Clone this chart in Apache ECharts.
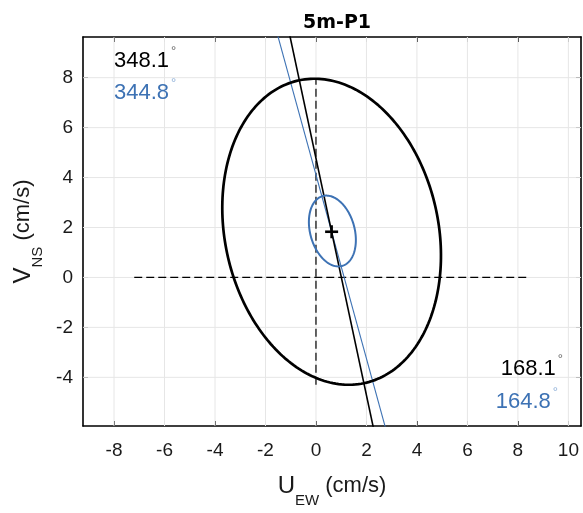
<!DOCTYPE html>
<html>
<head>
<meta charset="utf-8">
<script src="https://cdn.jsdelivr.net/npm/echarts@6/dist/echarts.min.js"></script>
<style>
  html, body { margin: 0; padding: 0; background: #ffffff; }
  #chart { width: 583px; height: 513px; }
</style>
</head>
<body>
<div id="chart"></div>
<script>
// Axis limits and tick positions (cm/s)
const xLimits = [-9.23, 10.5];
const yLimits = [-5.95, 9.63];
const xTicks = [-8, -6, -4, -2, 0, 2, 4, 6, 8, 10];
const yTicks = [-4, -2, 0, 2, 4, 6, 8];

// Variance ellipses: centre (u, v), semi-axes and principal-axis heading (deg from north)
const ellipseCentreU = [0.62, 0.65];
const ellipseCentreV = [1.83, 1.86];
const ellipseMajor = [6.20, 1.45];
const ellipseMinor = [4.23, 0.88];
const headings = [348.1, 344.8];
const seriesColors = ['#000000', '#3d72b4'];

// Mean current vector
const meanU = 0.62;
const meanV = 1.83;

// Dashed reference axes through the origin
const zeroLineV = [[0, -4.3], [0, 7.95]];
const zeroLineH = [[-7.2, 0], [8.4, 0]];

const FONT = 'Liberation Sans, Arial, Helvetica, sans-serif';
const TXT = '#1a1a1a';

// Principal-axis lines: long segments through the mean along each heading
const axisHalfLength = 40;
function headingLine(h) {
  const r = h * Math.PI / 180;
  const du = Math.sin(r) * axisHalfLength, dv = Math.cos(r) * axisHalfLength;
  return [[meanU - du, meanV - dv], [meanU + du, meanV + dv]];
}

function renderEllipse(params, api) {
  const cu = api.value(0), cv = api.value(1);
  const a = api.value(2), b = api.value(3);
  const h = api.value(4) * Math.PI / 180;
  const ux = Math.sin(h), uy = Math.cos(h);   // major-axis direction
  const vx = uy, vy = -ux;                     // minor-axis direction
  const pts = [];
  const n = 240;
  for (let k = 0; k < n; k++) {
    const t = 2 * Math.PI * k / n;
    const ca = a * Math.cos(t), sb = b * Math.sin(t);
    pts.push(api.coord([cu + ca * ux + sb * vx, cv + ca * uy + sb * vy]));
  }
  return {
    type: 'polygon',
    shape: { points: pts },
    style: { fill: 'none', stroke: seriesColors[params.dataIndex], lineWidth: params.dataIndex === 0 ? 2.7 : 2 }
  };
}

function renderVGrid(params, api) {
  const v = api.value(0);
  const p0 = api.coord([v, yLimits[0]]), p1 = api.coord([v, yLimits[1]]);
  return { type: 'line', shape: { x1: p0[0], y1: p0[1], x2: p1[0], y2: p1[1] },
           style: { stroke: '#e6e6e6', lineWidth: 1 } };
}
function renderHGrid(params, api) {
  const v = api.value(1);
  const p0 = api.coord([xLimits[0], v]), p1 = api.coord([xLimits[1], v]);
  return { type: 'line', shape: { x1: p0[0], y1: p0[1], x2: p1[0], y2: p1[1] },
           style: { stroke: '#e6e6e6', lineWidth: 1 } };
}
function renderCross(params, api) {
  const c = api.coord([api.value(0), api.value(1)]);
  const s = 6.5;
  return {
    type: 'group',
    children: [
      { type: 'line', shape: { x1: c[0] - s, y1: c[1], x2: c[0] + s, y2: c[1] }, style: { stroke: '#000', lineWidth: 2.6 } },
      { type: 'line', shape: { x1: c[0], y1: c[1] - s, x2: c[0], y2: c[1] + s }, style: { stroke: '#000', lineWidth: 2.6 } }
    ]
  };
}

const nameRich = {
  u: { fontSize: 24, fontFamily: FONT, color: TXT, lineHeight: 44 },
  s: { fontSize: 15, fontFamily: FONT, color: TXT, lineHeight: 15, verticalAlign: 'bottom' },
  n: { fontSize: 22, fontFamily: FONT, color: TXT, lineHeight: 44 }
};

function degreeLabel(value, color, degColor, x, y, align) {
  return {
    type: 'text', x: x, y: y, z: 10,
    style: {
      text: '{v|' + value.toFixed(1) + '}{d|°}',
      align: align, verticalAlign: 'middle',
      rich: {
        v: { fontSize: 22, fontFamily: FONT, fill: color, lineHeight: 32 },
        d: { fontSize: 13, fontFamily: FONT, fill: degColor, lineHeight: 13, verticalAlign: 'top', padding: [0, 0, 0, 2] }
      }
    }
  };
}

const baseX = {
  type: 'value', min: xLimits[0], max: xLimits[1],
  axisLine: { show: true, onZero: false, lineStyle: { color: '#000', width: 1.6 } },
  axisTick: { show: true, inside: true, length: 5, customValues: xTicks, lineStyle: { color: '#000', width: 1 } },
  splitLine: { show: false }
};
const baseY = {
  type: 'value', min: yLimits[0], max: yLimits[1],
  axisLine: { show: true, onZero: false, lineStyle: { color: '#000', width: 1.6 } },
  axisTick: { show: true, inside: true, length: 5, customValues: yTicks, lineStyle: { color: '#000', width: 1 } },
  splitLine: { show: false }
};

const chart = echarts.init(document.getElementById('chart'), null, { renderer: 'canvas' });
chart.setOption({
  animation: false,
  backgroundColor: '#ffffff',
  title: {
    text: '5m-P1', left: 332, top: 9, textAlign: 'center',
    textStyle: { fontSize: 19, fontWeight: 'bold', fontFamily: 'DejaVu Sans, sans-serif', color: '#000' }
  },
  grid: { left: 83, right: 2, top: 37, bottom: 84, containLabel: false },
  xAxis: [
    Object.assign({}, baseX, {
      position: 'bottom',
      axisLabel: { show: true, customValues: xTicks, fontSize: 19, fontFamily: FONT, color: TXT, margin: 15 },
      name: '{u|U}{s|EW}{n| (cm/s)}', nameLocation: 'middle', nameGap: 38,
      nameTextStyle: { rich: nameRich }
    }),
    Object.assign({}, baseX, { position: 'top', axisLabel: { show: false } })
  ],
  yAxis: [
    Object.assign({}, baseY, {
      position: 'left',
      axisLabel: { show: true, customValues: yTicks, fontSize: 19, fontFamily: FONT, color: TXT, margin: 10 },
      name: '{u|V}{s|NS}{n| (cm/s)}', nameLocation: 'middle', nameGap: 35,
      nameTextStyle: { rich: nameRich }
    }),
    Object.assign({}, baseY, { position: 'right', axisLabel: { show: false } })
  ],
  graphic: [
    degreeLabel(headings[0], '#000000', '#666666', 114, 61, 'left'),
    degreeLabel(headings[1], seriesColors[1], '#8fb0d8', 114, 93, 'left'),
    degreeLabel(headings[0] - 180, '#000000', '#666666', 563, 369, 'right'),
    degreeLabel(headings[1] - 180, seriesColors[1], '#8fb0d8', 558, 402, 'right')
  ],
  series: [
    { type: 'custom', name: 'gridX', z: 1, silent: true, renderItem: renderVGrid,
      data: xTicks.map(v => [v, 0]) },
    { type: 'custom', name: 'gridY', z: 1, silent: true, renderItem: renderHGrid,
      data: yTicks.map(v => [0, v]) },
    { type: 'line', name: 'zeroV', z: 2, silent: true, symbol: 'none', data: zeroLineV,
      lineStyle: { color: '#000', width: 1.2, type: [8, 4] } },
    { type: 'line', name: 'zeroH', z: 2, silent: true, symbol: 'none', data: zeroLineH,
      lineStyle: { color: '#000', width: 1.2, type: [8, 4] } },
    { type: 'line', name: 'axis ' + headings[1], z: 3, silent: true, symbol: 'none', clip: true,
      data: headingLine(headings[1]), lineStyle: { color: seriesColors[1], width: 1.1 } },
    { type: 'line', name: 'axis ' + headings[0], z: 3, silent: true, symbol: 'none', clip: true,
      data: headingLine(headings[0]), lineStyle: { color: seriesColors[0], width: 1.6 } },
    { type: 'custom', name: 'ellipses', z: 4, silent: true, clip: true, renderItem: renderEllipse,
      data: headings.map((h, i) => [ellipseCentreU[i], ellipseCentreV[i], ellipseMajor[i], ellipseMinor[i], h]) },
    { type: 'custom', name: 'mean', z: 5, silent: true, renderItem: renderCross,
      data: [[meanU, meanV]] }
  ]
});
</script>
</body>
</html>
